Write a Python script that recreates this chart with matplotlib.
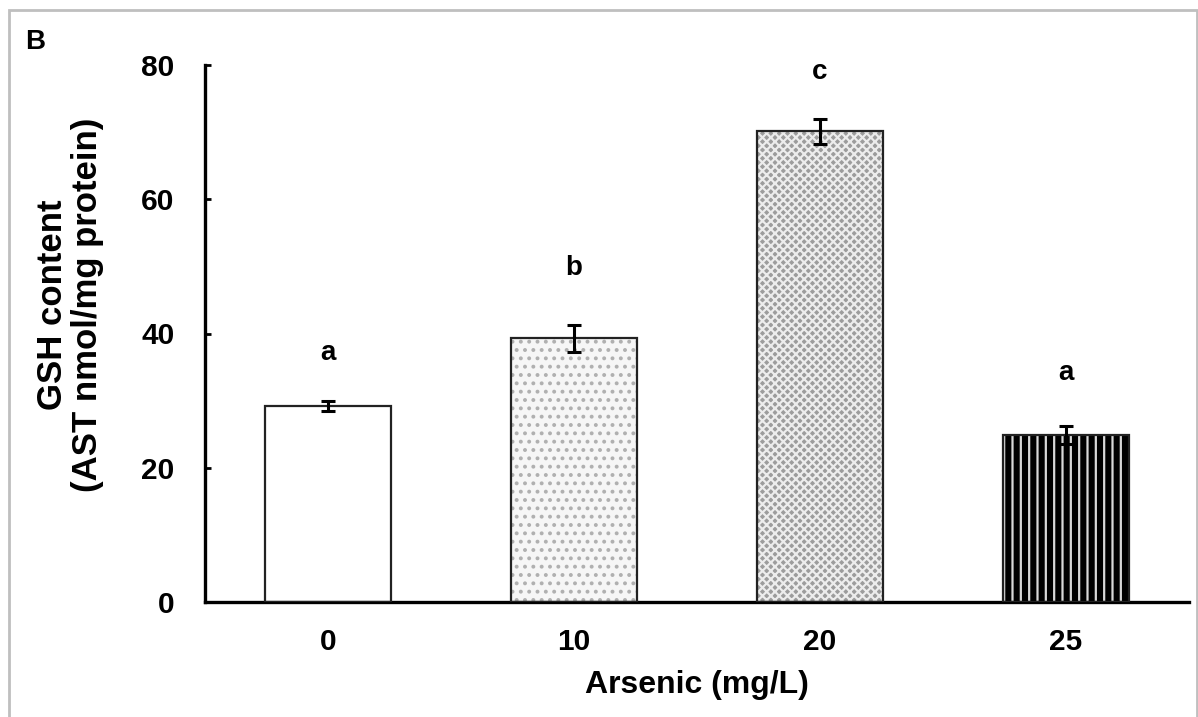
import matplotlib

matplotlib.use("Agg")
import matplotlib.pyplot as plt
from matplotlib.patches import Rectangle

plt.rcParams["font.family"] = ["Liberation Sans", "DejaVu Sans"]
plt.rcParams["font.weight"] = "bold"
plt.rcParams["hatch.linewidth"] = 1.6

# data
doses = ["0", "10", "20", "25"]
gsh = [29.2, 39.3, 70.1, 24.9]
gsh_err = [0.7, 2.0, 1.9, 1.3]
letters = ["a", "b", "c", "a"]
letter_y = [37.1, 49.8, 79.0, 34.1]

# bar styles: face colour, hatch, hatch colour
faces = ["white", "#f6f6f6", "#9c9c9c", "black"]
hatches = [None, "..", "xxxx", "||"]
hatch_cols = ["white", "#b0b0b0", "#ececec", "#d8d8d8"]

fig = plt.figure(figsize=(11.98, 7.17), dpi=100)
ax = fig.add_axes([205 / 1198, 1 - 602 / 717, (1189 - 205) / 1198, (602 - 65) / 717])

x = list(range(len(doses)))
w = 0.515
# fill + hatch first, then outline on top
for xi, h, fc, ht, hc in zip(x, gsh, faces, hatches, hatch_cols):
    ax.bar(xi, h, width=w, color=fc, hatch=ht, edgecolor=hc, linewidth=0, zorder=2)
ax.bar(x, gsh, width=w, fill=False, edgecolor="#222222", linewidth=1.6, zorder=3)
ax.errorbar(x, gsh, yerr=gsh_err, fmt="none", ecolor="black", elinewidth=2.2,
            capsize=5, capthick=2.2, zorder=4)

for xi, lt, ly in zip(x, letters, letter_y):
    ax.text(xi, ly, lt, ha="center", va="center", fontsize=20, fontweight="bold")

ax.set_xlim(-0.5, 3.5)
ax.set_ylim(0, 80)
ax.set_yticks([0, 20, 40, 60, 80])
ax.set_xticks(x)
ax.set_xticklabels(doses)
for s in ("top", "right"):
    ax.spines[s].set_visible(False)
for s in ("left", "bottom"):
    ax.spines[s].set_linewidth(2.4)
ax.tick_params(axis="y", direction="in", length=4, width=2, labelsize=21.5, pad=22)
ax.tick_params(axis="x", length=0, labelsize=21.5, pad=19)
ax.set_xlabel("Arsenic (mg/L)", fontsize=23, fontweight="bold", labelpad=10)

fig.text(70 / 1198, 1 - 305 / 717, "GSH content\n(AST nmol/mg protein)", rotation=90,
         ha="center", va="center", multialignment="center", fontsize=25,
         fontweight="bold", linespacing=1.05)
fig.text(35 / 1198, 1 - 42 / 717, "B", ha="center", va="center", fontsize=20,
         fontweight="bold")

# grey frame around the panel (bottom edge falls outside the picture)
fig.patches.append(Rectangle((9 / 1198, -0.05), (1197 - 9) / 1198, 1.05 - 10 / 717,
                             transform=fig.transFigure, fill=False,
                             edgecolor="#bfbfbf", linewidth=2))

fig.savefig("out.png", dpi=100)
